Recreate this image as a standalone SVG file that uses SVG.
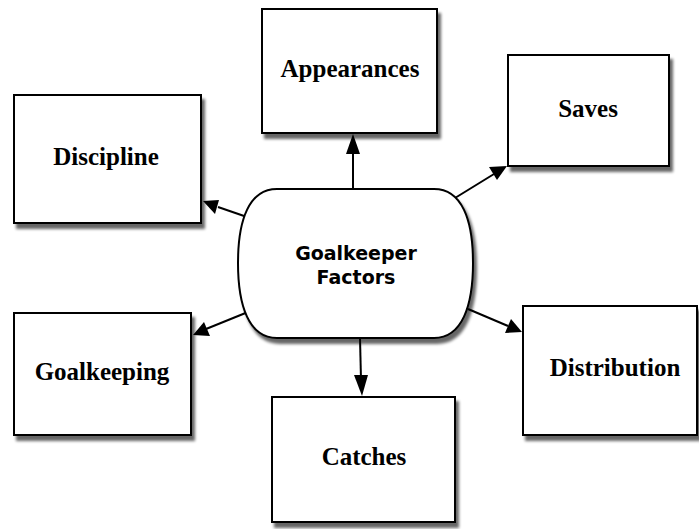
<svg xmlns="http://www.w3.org/2000/svg" width="699" height="529" viewBox="0 0 699 529">
<style>
.box{fill:#fff;stroke:#000;stroke-width:2;filter:url(#sh)}
.lbl{font-family:"Liberation Serif","Times New Roman",serif;font-weight:bold;font-size:25px;text-anchor:middle;fill:#000}
.ctr{font-family:"DejaVu Sans","Liberation Sans",sans-serif;font-weight:bold;font-size:19px;text-anchor:middle;fill:#000}
.ln{stroke:#000;stroke-width:2;fill:none}
.hd{fill:#000}
</style>
<defs>
<filter id="sh" x="-10%" y="-10%" width="130%" height="130%">
<feGaussianBlur in="SourceAlpha" stdDeviation="1.5"/>
<feOffset dx="3" dy="5" result="o"/>
<feComponentTransfer><feFuncA type="linear" slope="0.6"/></feComponentTransfer>
<feMerge><feMergeNode/><feMergeNode in="SourceGraphic"/></feMerge>
</filter>
</defs>
<g id="connectors">
<path class="ln" d="M353,188 L353,152"/>
<path class="hd" d="M353,134 L346,154 L360,154 Z"/>
<path class="ln" d="M455,198 L494,174"/>
<path class="hd" d="M507,166 L489,167 L497,180 Z"/>
<path class="ln" d="M247,217 L218,207"/>
<path class="hd" d="M203,201 L219,200 L215,214 Z"/>
<path class="ln" d="M248,312 L206,329"/>
<path class="hd" d="M193,335 L204,322 L210,336 Z"/>
<path class="ln" d="M468,309 L508,326"/>
<path class="hd" d="M522,332 L505,333 L511,319 Z"/>
<path class="ln" d="M360,338 L361,380"/>
<path class="hd" d="M362,396 L354,375 L368,375 Z"/>
</g>
<g id="center">
<path class="box" d="M277,189 H434 C462,189 473,220 473,263 C473,306 462,338 434,338 H277 C249,338 238,306 238,263 C238,220 249,189 277,189 Z"/>
<text class="ctr" x="356" y="260">Goalkeeper</text>
<text class="ctr" x="356" y="284">Factors</text>
</g>
<g id="appearances">
<rect class="box" x="262" y="9" width="175" height="124"/>
<text class="lbl" x="350" y="77">Appearances</text>
</g>
<g id="saves">
<rect class="box" x="508" y="55" width="161" height="111"/>
<text class="lbl" x="588" y="117">Saves</text>
</g>
<g id="discipline">
<rect class="box" x="14" y="95" width="187" height="128"/>
<text class="lbl" x="106" y="165">Discipline</text>
</g>
<g id="goalkeeping">
<rect class="box" x="14" y="313" width="177" height="122"/>
<text class="lbl" x="102" y="380">Goalkeeping</text>
</g>
<g id="distribution">
<rect class="box" x="523" y="306" width="174" height="129"/>
<text class="lbl" x="615" y="376">Distribution</text>
</g>
<g id="catches">
<rect class="box" x="272" y="397" width="183" height="125"/>
<text class="lbl" x="364" y="465">Catches</text>
</g>
</svg>
